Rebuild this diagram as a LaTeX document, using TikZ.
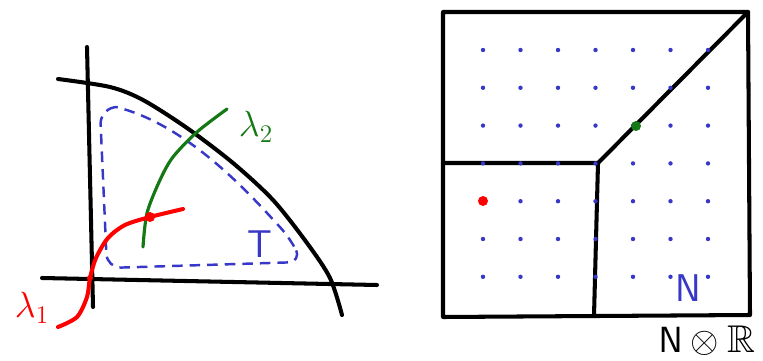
\documentclass[tikz,border=0pt]{standalone}
\usepackage{amssymb}
\definecolor{sketchblue}{RGB}{56,56,200}
\definecolor{sketchgreen}{RGB}{20,120,20}
\begin{document}
\begin{tikzpicture}[
  x=0.02cm, y=-0.02cm,
  pen/.style={line width=2.3pt, black, line cap=round, line join=round},
  tdash/.style={line width=1.4pt, sketchblue, dash pattern=on 6pt off 4pt, rounded corners=8pt},
  redpen/.style={line width=2.3pt, red, line cap=round},
  greenpen/.style={line width=1.8pt, sketchgreen, line cap=round},
  gdot/.style={sketchblue},
  lbl/.style={font=\fontsize{22}{26}\selectfont, inner sep=0pt}
]
  \useasboundingbox (0,0) rectangle (763,361);

  % ── Left panel: axes and boundary curve ─────────────────────────────────
  \coordinate (ytop) at (87,47);
  \coordinate (ybot) at (93,307);
  \coordinate (xleft)  at (42,278);
  \coordinate (xright) at (377,285);
  \draw[pen] (ytop) -- (ybot);
  \draw[pen] (xleft) -- (xright);
  \draw[pen] plot[smooth] coordinates {(58,79) (110,87) (143,100) (187,128) (233,163)
                                       (273,200) (307,243) (330,278) (342,315)};

  % ── Region T (dashed) ───────────────────────────────────────────────────
  \draw[tdash] (116,107) -- (100,110) -- (107,268) -- (302,262) -- (290,238)
               .. controls (255,200) and (190,125) .. (116,107);
  \node[lbl, sketchblue] (tlabel) at (260,244) {\textsf{T}};

  % ── Curves lambda_1 and lambda_2 ────────────────────────────────────────
  \draw[greenpen] plot[smooth] coordinates {(143,247) (147,213) (160,180) (173,157) (197,132) (227,109)};
  \draw[redpen] plot[smooth] coordinates {(58,327) (77,317) (87,297) (90,278) (96,258)
                                          (108,238) (125,225) (150,217) (183,209)};
  \fill[red] (150,217) circle (5);
  \fill[red] (90,278) circle (3);
  \node[lbl, red] (lamone) at (32,308) {$\lambda_1$};
  \node[lbl, sketchgreen] (lamtwo) at (256,127) {$\lambda_2$};

  % ── Right panel: square and its cells ───────────────────────────────────
  \coordinate (tl) at (443,12);
  \coordinate (tr) at (748,12);
  \coordinate (br) at (750,315);
  \coordinate (bl) at (443,317);
  \coordinate (jn) at (598,163);
  \coordinate (ml) at (443,163);
  \coordinate (mb) at (594,316);
  \draw[pen] (tl) -- (tr) -- (br) -- (bl) -- cycle;
  \draw[pen] (ml) -- (jn) -- (tr);
  \draw[pen] (jn) -- (mb);

  % ── Lattice points ──────────────────────────────────────────────────────
  \foreach \i in {0,...,6}
    \foreach \j in {0,...,6}
      \fill[gdot] (483+37.5*\i, 50+37.8*\j) circle (2.2);
  \fill[red] (483,201) circle (5);
  \fill[sketchgreen] (636,126) circle (5);

  % ── Labels ──────────────────────────────────────────────────────────────
  \node[lbl, sketchblue] (nlabel) at (688,288) {\textsf{N}};
  \node[lbl] (nrlabel) at (707,341) {$\mathsf{N}\otimes\mathbb{R}$};
\end{tikzpicture}
\end{document}
